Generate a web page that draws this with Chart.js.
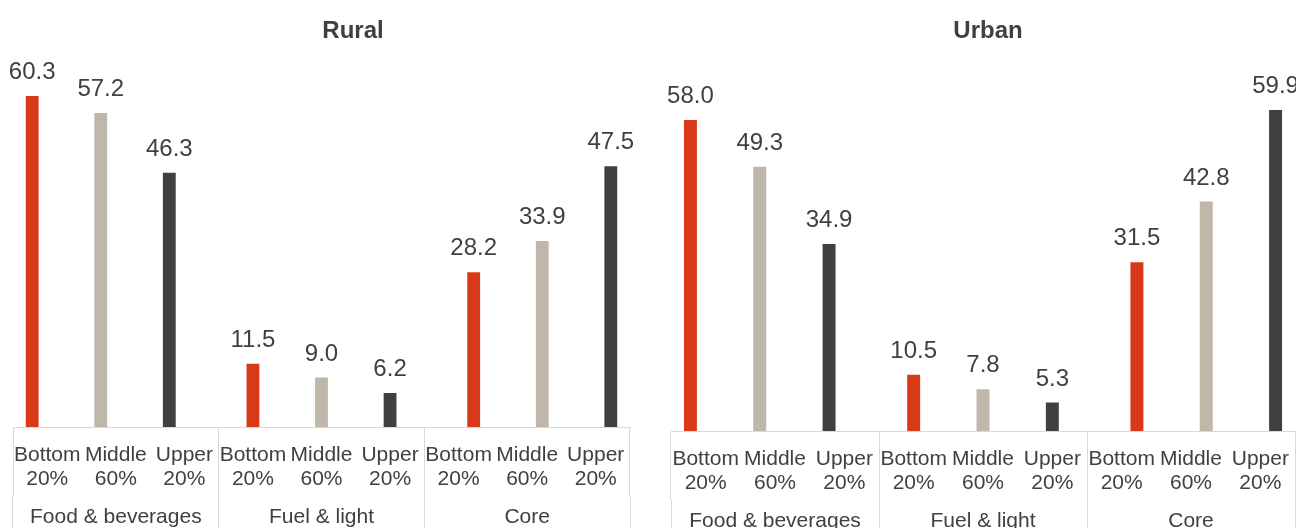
<!DOCTYPE html>
<html><head><meta charset="utf-8">
<script src="https://cdn.jsdelivr.net/npm/chart.js@4.4.1/dist/chart.umd.min.js"></script>
<style>
html,body{margin:0;padding:0;width:1296px;height:528px;overflow:hidden;background:#fff;position:relative}
.wrap{position:absolute;top:0}
</style></head><body>
<div class="wrap" style="left:0;width:706px;height:528px"><canvas id="rural"></canvas></div>
<div class="wrap" style="left:660px;width:656px;height:532px"><canvas id="urban"></canvas></div>
<script>
// ---- data ----
const tierLabels = [["Bottom","20%"],["Middle","60%"],["Upper","20%"]];
const groupLabels = ["Food & beverages","Fuel & light","Core"];
const ruralFood = [60.3, 57.2, 46.3];
const ruralFuel = [11.5, 9.0, 6.2];
const ruralCore = [28.2, 33.9, 47.5];
const urbanFood = [58.0, 49.3, 34.9];
const urbanFuel = [10.5, 7.8, 5.3];
const urbanCore = [31.5, 42.8, 59.9];

// ---- styles ----
const tierColors = ["#D83A19", "#BFB7AA", "#404040"];
const textColor = "#404040";
const lineColor = "#D9D9D9";
const FONT = "'Liberation Sans', Arial, sans-serif";

const categories = [];
groupLabels.forEach(() => tierLabels.forEach(t => categories.push(t)));
const barColors = categories.map((_, i) => tierColors[i % 3]);

function padded(values, groupIndex) {
  const arr = new Array(categories.length).fill(null);
  values.forEach((v, j) => { arr[groupIndex * 3 + j] = v; });
  return arr;
}

const valueLabels = {
  id: 'valueLabels',
  afterDatasetsDraw(chart) {
    const ctx = chart.ctx;
    ctx.save();
    ctx.font = "24px " + FONT;
    ctx.fillStyle = textColor;
    ctx.textAlign = 'center';
    ctx.textBaseline = 'alphabetic';
    chart.data.datasets.forEach((ds, di) => {
      const meta = chart.getDatasetMeta(di);
      meta.data.forEach((el, i) => {
        const v = ds.data[i];
        if (v === null || v === undefined) return;
        ctx.fillText(v.toFixed(1), el.x, el.y - 17);
      });
    });
    ctx.restore();
  }
};

const panelTitle = {
  id: 'panelTitle',
  afterDraw(chart, args, opts) {
    const ctx = chart.ctx;
    ctx.save();
    ctx.font = "bold 24px " + FONT;
    ctx.fillStyle = textColor;
    ctx.textAlign = 'center';
    ctx.textBaseline = 'alphabetic';
    ctx.fillText(opts.text, opts.x, opts.y);
    ctx.restore();
  }
};

function makeChart(id, title, titleX, food, fuel, core, yMax, pad) {
  const sets = [food, fuel, core];
  new Chart(document.getElementById(id), {
    type: 'bar',
    data: {
      labels: categories,
      datasets: sets.map((vals, g) => ({
        label: groupLabels[g],
        data: padded(vals, g),
        backgroundColor: barColors,
        borderWidth: 0,
        categoryPercentage: 0.66,
        barPercentage: 0.85
      }))
    },
    options: {
      responsive: true,
      maintainAspectRatio: false,
      animation: false,
      layout: { padding: pad },
      plugins: {
        legend: { display: false },
        tooltip: { enabled: false },
        title: { display: false },
        panelTitle: { text: title, x: titleX, y: 38 }
      },
      scales: {
        y: { display: false, min: 0, max: yMax },
        x: {
          offset: true,
          border: { display: true, color: lineColor, width: 1 },
          grid: {
            offset: true,
            drawOnChartArea: false,
            drawTicks: true,
            tickLength: 70,
            lineWidth: 1,
            color: c => (c.index === undefined || c.index % 3 === 0) ? lineColor : 'rgba(0,0,0,0)'
          },
          ticks: {
            autoSkip: false, maxRotation: 0, minRotation: 0,
            padding: -54,
            color: textColor,
            font: { family: FONT, size: 21, lineHeight: 24 / 21 }
          },
          afterFit: s => { s.height = 70; }
        },
        x2: {
          type: 'category',
          position: 'bottom',
          labels: groupLabels,
          offset: true,
          border: { display: false },
          grid: {
            offset: true,
            drawOnChartArea: false,
            drawTicks: true,
            tickLength: 40,
            lineWidth: 1,
            color: lineColor
          },
          ticks: {
            autoSkip: false, maxRotation: 0, minRotation: 0,
            padding: -32,
            color: textColor,
            font: { family: FONT, size: 21, lineHeight: 24 / 21 }
          },
          afterFit: s => { s.height = 31; }
        }
      }
    },
    plugins: [valueLabels, panelTitle]
  });
}

makeChart('rural', 'Rural', 353, ruralFood, ruralFuel, ruralCore, 68, { left: 13, right: 76, top: 53.7, bottom: 0 });
makeChart('urban', 'Urban', 328, urbanFood, urbanFuel, urbanCore, 70, { left: 11, right: 21, top: 55.8, bottom: 0 });
</script>
</body></html>
